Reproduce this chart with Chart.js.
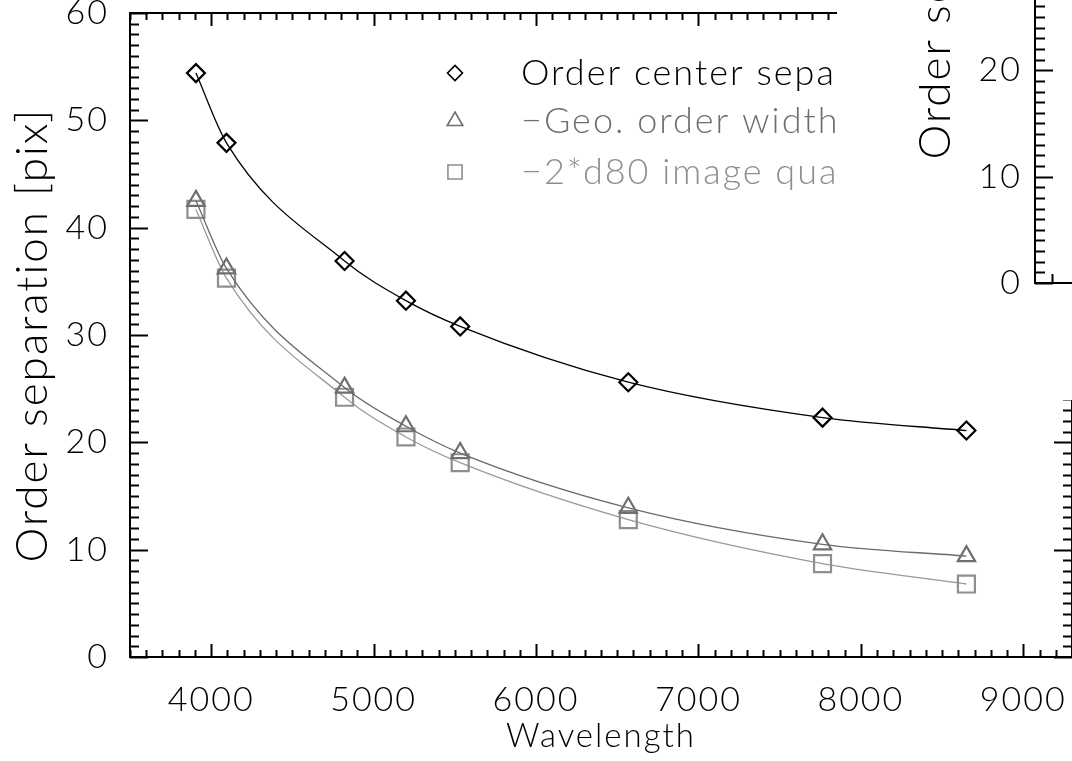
<!DOCTYPE html>
<html>
<head>
<meta charset="utf-8">
<script src="https://cdn.jsdelivr.net/npm/chart.js@4/dist/chart.umd.min.js"></script>
<style>
  html, body { margin: 0; padding: 0; background: #fff; overflow: hidden; }
  #wrap { position: relative; width: 1072px; height: 761px; overflow: hidden; background: #fff; }
  #main { position: absolute; left: 0; top: 0; }
  #inset { position: absolute; left: 837px; top: -419px; background: #fff; }
</style>
</head>
<body>
<div id="wrap">
  <canvas id="main" width="1072" height="761"></canvas>
  <canvas id="inset" width="400" height="819"></canvas>
</div>
<script>
// values
const wavelength   = [3906, 4094, 4821, 5199, 5533, 6568, 7764, 8650];
const centerSep    = [54.4, 47.9, 36.9, 33.2, 30.8, 25.6, 22.3, 21.1];
const geoWidth     = [42.5, 36.2, 25.1, 21.5, 19.0, 13.9, 10.5, 9.4];
const imageQuality = [41.7, 35.3, 24.2, 20.5, 18.1, 12.8, 8.7, 6.8];
const seriesLabels = ['Order center separation', '\u2212Geo. order width', '\u22122*d80 image quality'];

const xTickValues = [4000, 5000, 6000, 7000, 8000, 9000];
const yTickValues = [0, 10, 20, 30, 40, 50, 60];
// the second panel is cut off by the picture edge, only its lower left corner shows
const insetYTickValues = [0, 10, 20, 30, 40, 50, 60];
const insetYMax = 66;
const insetXTickValues = [1];

const FONT = 'Lato, "DejaVu Sans", sans-serif';
const tickFont = { family: FONT, size: 34, weight: 300 };
const xTitleFont = { family: FONT, size: 33, weight: 300 };
const yTitleFont = { family: FONT, size: 44, weight: 300 };

const colors = ['#000000', '#6f6f6f', '#8e8e8e'];
const lineColors = ['#000000', '#6a6a6a', '#9a9a9a'];

function pts(ys) {
  return wavelength.map((w, i) => ({ x: w, y: ys[i] }));
}

// the vector font of the original is wide, so open up the letters a bit
const textSpacing = {
  id: 'textSpacing',
  beforeLayout(chart, args, opts) { chart.ctx.letterSpacing = opts.px + 'px'; },
  beforeDraw(chart, args, opts) { chart.ctx.letterSpacing = opts.px + 'px'; }
};

// IDL style box: frame + inward ticks on all sides
const idlAxes = {
  id: 'idlAxes',
  afterDraw(chart, args, opts) {
    const { ctx, chartArea: a, scales: { x, y } } = chart;
    ctx.save();
    ctx.strokeStyle = '#000';
    ctx.lineWidth = 2;
    ctx.strokeRect(a.left, a.top, a.right - a.left, a.bottom - a.top);
    ctx.beginPath();
    if (opts.xMinor) {
      for (let v = Math.ceil(x.min / opts.xMinor) * opts.xMinor; v <= x.max; v += opts.xMinor) {
        const px = Math.round(x.getPixelForValue(v)) + 0.5;
        const len = v % opts.xMajor === 0 ? opts.xMajorLen : opts.xMinorLen;
        ctx.moveTo(px, a.bottom); ctx.lineTo(px, a.bottom - len);
        ctx.moveTo(px, a.top); ctx.lineTo(px, a.top + len);
      }
    }
    (opts.xExtra || []).forEach(v => {
      const px = Math.round(x.getPixelForValue(v)) + 0.5;
      ctx.moveTo(px, a.bottom); ctx.lineTo(px, a.bottom - opts.xMinorLen);
    });
    for (let v = y.min; v <= y.max; v += opts.yMinor) {
      const py = Math.round(y.getPixelForValue(v)) + 0.5;
      const len = Math.round(v) % opts.yMajor === 0 ? opts.yMajorLen : opts.yMinorLen;
      ctx.moveTo(a.left, py); ctx.lineTo(a.left + len, py);
      ctx.moveTo(a.right, py); ctx.lineTo(a.right - len, py);
    }
    ctx.stroke();
    ctx.restore();
  }
};

// legend drawn inside the plot, IDL style
const idlLegend = {
  id: 'idlLegend',
  afterDatasetsDraw(chart, args, opts) {
    if (!opts.show) return;
    const ctx = chart.ctx;
    ctx.save();
    chart.data.datasets.forEach((ds, i) => {
      const yy = opts.rows[i];
      ctx.strokeStyle = ds.pointBorderColor;
      ctx.fillStyle = 'rgba(0,0,0,0)';
      ctx.lineWidth = 1.6;
      Chart.helpers.drawPoint(ctx, {
        pointStyle: ds.pointStyle, radius: opts.radius[i], rotation: 0, borderWidth: 1.6
      }, opts.markerX, yy);
      ctx.fillStyle = opts.textColors[i];
      ctx.font = '300 ' + opts.size + 'px ' + FONT;
      ctx.textBaseline = 'middle';
      ctx.textAlign = 'left';
      ctx.fillText(ds.label, opts.textX, yy);
    });
    ctx.restore();
  }
};

function noPadX(h) {
  return s => {
    s.height = h;
    s.paddingLeft = 0; s.paddingRight = 0;
    if (s._margins) { s._margins.left = 0; s._margins.right = 0; }
  };
}
function noPadY(w) {
  return s => {
    s.width = w;
    s.paddingTop = 0; s.paddingBottom = 0;
    if (s._margins) { s._margins.top = 0; s._margins.bottom = 0; }
  };
}
// invisible tick marks, only used to push the labels away from the axis
function gap(len) {
  return { display: true, drawOnChartArea: false, drawTicks: true, tickLength: len, tickColor: 'rgba(0,0,0,0)' };
}

const mainChart = new Chart(document.getElementById('main'), {
  type: 'line',
  data: {
    datasets: [
      {
        label: seriesLabels[0], data: pts(centerSep),
        borderColor: lineColors[0], borderWidth: 1.3,
        pointStyle: 'rectRot', pointRadius: 9, pointBorderWidth: 2.2,
        pointBorderColor: colors[0], pointBackgroundColor: 'rgba(0,0,0,0)',
        cubicInterpolationMode: 'monotone'
      },
      {
        label: seriesLabels[1], data: pts(geoWidth),
        borderColor: lineColors[1], borderWidth: 1.3,
        pointStyle: 'triangle', pointRadius: 10, pointBorderWidth: 2.2,
        pointBorderColor: colors[1], pointBackgroundColor: 'rgba(0,0,0,0)',
        cubicInterpolationMode: 'monotone'
      },
      {
        label: seriesLabels[2], data: pts(imageQuality),
        borderColor: lineColors[2], borderWidth: 1.3,
        pointStyle: 'rect', pointRadius: 12, pointBorderWidth: 2.2,
        pointBorderColor: colors[2], pointBackgroundColor: 'rgba(0,0,0,0)',
        cubicInterpolationMode: 'monotone'
      }
    ]
  },
  options: {
    responsive: false,
    animation: false,
    events: [],
    layout: { autoPadding: false, padding: { top: 13, right: 0, left: 0, bottom: 0 } },
    plugins: {
      legend: { display: false },
      tooltip: { enabled: false },
      textSpacing: { px: 2 },
      idlAxes: { xMinor: 100, xMajor: 1000, xMajorLen: 13, xMinorLen: 7, yMinor: 1, yMajor: 10, yMajorLen: 18, yMinorLen: 9 },
      idlLegend: { show: true, rows: [73, 121, 172], markerX: 455, textX: 521, radius: [7.5, 9, 10], size: 36, textColors: colors }
    },
    scales: {
      x: {
        type: 'linear', min: 3500, max: 9300,
        afterBuildTicks: s => { s.ticks = xTickValues.map(v => ({ value: v })); },
        afterFit: noPadX(104),
        grid: gap(23), border: { display: false },
        ticks: { font: tickFont, color: '#000', padding: 0, maxRotation: 0, autoSkip: false, callback: v => String(v) },
        title: { display: true, text: 'Wavelength', font: xTitleFont, color: '#000', padding: { top: 0, bottom: 5 } }
      },
      y: {
        type: 'linear', min: 0, max: 60,
        afterBuildTicks: s => { s.ticks = yTickValues.map(v => ({ value: v })); },
        afterFit: noPadY(130),
        grid: gap(21), border: { display: false },
        ticks: { font: tickFont, color: '#000', padding: 0, callback: v => String(v) },
        title: { display: true, text: 'Order separation [pix]', font: yTitleFont, color: '#000', padding: { top: 6, bottom: 0 } }
      }
    }
  },
  plugins: [textSpacing, idlAxes, idlLegend]
});

// second panel that overlaps the top right corner
const insetChart = new Chart(document.getElementById('inset'), {
  type: 'line',
  data: { datasets: [] },
  options: {
    responsive: false,
    animation: false,
    events: [],
    layout: { autoPadding: false, padding: 0 },
    plugins: {
      legend: { display: false },
      tooltip: { enabled: false },
      textSpacing: { px: 2 },
      idlAxes: { xMinor: 0, xExtra: insetXTickValues, xMinorLen: 9, yMinor: 1, yMajor: 10, yMajorLen: 18, yMinorLen: 10 },
      idlLegend: { show: false }
    },
    scales: {
      x: {
        type: 'linear', min: 0, max: 12,
        afterFit: noPadX(117),
        grid: { display: false }, border: { display: false },
        ticks: { display: false }
      },
      y: {
        type: 'linear', min: 0, max: insetYMax,
        afterBuildTicks: s => { s.ticks = insetYTickValues.map(v => ({ value: v })); },
        afterFit: noPadY(198),
        grid: gap(13), border: { display: false },
        ticks: { font: tickFont, color: '#000', padding: 0, callback: v => String(v) },
        title: { display: true, text: 'Order separation [pix]', font: yTitleFont, color: '#000', padding: { top: 72, bottom: 0 } }
      }
    }
  },
  plugins: [textSpacing, idlAxes, idlLegend]
});
</script>
</body>
</html>
